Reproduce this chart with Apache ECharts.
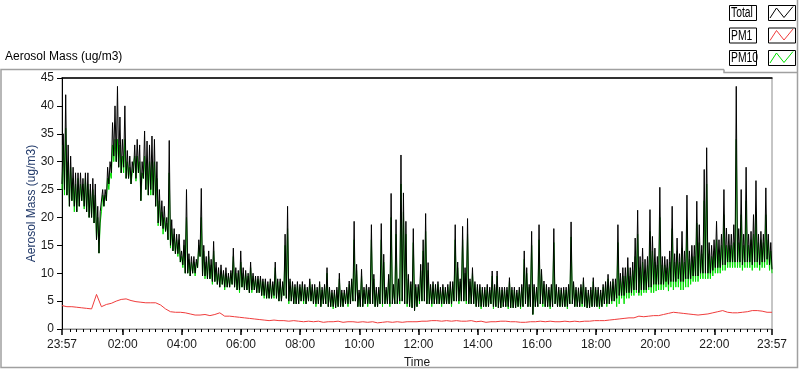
<!DOCTYPE html>
<html>
<head>
<meta charset="UTF-8">
<title>Aerosol Mass</title>
<script src="https://cdn.jsdelivr.net/npm/echarts@6/dist/echarts.min.js"></script>
<style>
html, body { margin: 0; padding: 0; background: #fff; }
#main { width: 800px; height: 369px; }
</style>
</head>
<body>
<div id="main"></div>
<script>
// time labels on the x axis (first and last are the same clock time, 24 h apart)
var tickLabels = ['23:57', '02:00', '04:00', '06:00', '08:00', '10:00', '12:00',
                  '14:00', '16:00', '18:00', '20:00', '22:00', '23:57'];

// readings are dense, so each 5 minute bin keeps its low and its high value
var binMinutes = 5;

// Total: low of each bin
var totalLo = [
  26, 25, 24, 22, 23, 22, 21, 22, 23, 22, 21, 20,
  20, 19, 16, 13.6, 21, 22, 23, 26, 28, 31, 30, 29,
  28, 29, 27, 27, 26, 28, 27, 28, 23, 27, 25, 24,
  25, 24, 22, 19, 18.5, 18, 17.5, 16, 15, 14, 13.5, 13.5,
  12, 11.5, 10, 10, 9.5, 10, 10, 11, 13, 9.5, 9.5, 9,
  9, 8.5, 8.5, 8, 7.5, 8, 7.5, 7.5, 7.5, 8, 7.5, 7,
  7, 7.5, 7, 7, 6.5, 7, 7, 6.5, 6.5, 6, 6, 5.5,
  5.5, 5.5, 6, 5.5, 5, 5, 6, 5.5, 5, 5, 4.5, 4.5,
  4.5, 5, 5, 4.5, 5, 5, 4.5, 4.5, 4.5, 4, 4.5, 4.5,
  4, 4, 4, 3.8, 4, 4, 4, 4.5, 4.5, 4.5, 5, 5,
  4, 4, 4, 4.5, 4.5, 4.5, 4.5, 4, 4, 4.5, 4.5, 4.5,
  4.5, 4.5, 4.5, 4.5, 4.5, 5, 5, 4.5, 4.5, 4, 3.8, 3.3,
  4, 5, 5, 5, 4.5, 4.5, 4.5, 4.5, 4.5, 4.5, 4.5, 4.5,
  4.5, 4.5, 4.5, 5, 5, 5, 5, 5, 5, 4.5, 4.5, 4.5,
  4, 4, 4, 4, 4, 4, 4.5, 4, 4, 3.8, 3.8, 4,
  4, 4, 3.8, 3.8, 3.8, 4, 4, 4, 4.5, 4, 4, 2.6,
  4, 4, 4.5, 4.5, 4, 4, 4, 4, 4.5, 4, 4, 4,
  4, 4, 4.5, 4.5, 4, 4, 4, 4.5, 4, 3.8, 3.8, 4,
  4, 4, 4, 4, 4.5, 4.5, 4.5, 5, 5, 5.5, 6, 6,
  6, 6.5, 6.5, 6.5, 7, 7, 6.5, 7, 7, 7, 7.5, 7.5,
  8, 8, 8, 8, 8, 8.5, 8, 8.5, 8.5, 8.5, 9, 8.5,
  8.5, 9, 9, 9, 9.5, 9.5, 9.5, 10, 10, 10, 10, 10,
  10.5, 11, 11, 11, 11.5, 11.5, 12, 12, 12, 12, 12, 12,
  11.5, 12, 12, 12, 11.5, 12, 12, 11.5, 12, 12, 12.5, 11.5,
  10.7
];
// Total: high of each bin
var totalHi = [
  35, 42, 33, 31, 29, 28, 28, 28, 27, 28, 28, 26,
  27, 26, 22, 21, 25, 25, 29, 30, 37, 40, 43.5, 38,
  34, 40, 32, 31, 30, 33, 34, 33, 30, 35.5, 33.7, 33,
  34.6, 34, 30, 25, 23, 22, 20, 33.8, 19.6, 18, 17, 17,
  14, 16, 25, 13.5, 13, 13, 12.5, 16, 25.2, 15, 13, 14,
  12.5, 15.7, 12, 11, 11.5, 10.5, 11, 10, 10.5, 14.5, 11, 10.5,
  14, 11, 10.5, 10, 12, 10, 9.5, 9.5, 9.5, 9, 9, 8.5,
  9, 8.5, 12, 9, 9, 8.5, 17, 22, 9, 8.5, 8, 8.5,
  8, 8.5, 8, 7.5, 9, 8, 8, 7.5, 8.5, 7.5, 8, 11,
  7.5, 7, 7, 7.5, 10, 7, 7, 7.5, 8.6, 9, 19.3, 11.6,
  7, 10.7, 7.5, 8, 7.5, 18.7, 9.8, 7.5, 7.5, 18.9, 13.4, 7.5,
  9.8, 24.3, 8, 19.6, 9, 31.2, 24.4, 19.3, 9.8, 8.5, 18, 8,
  8, 11.6, 16, 20.7, 11.9, 8, 8.5, 8, 8.5, 7.5, 8, 7.5,
  8, 8.5, 8.5, 18.7, 12, 9, 18.4, 11, 19.8, 9, 11, 8.5,
  8, 8, 7.5, 7.5, 8, 7.5, 10.4, 8, 10.4, 7.5, 7.5, 7.5,
  7.5, 9.2, 7.5, 7.5, 7, 7.5, 8, 14, 11, 8, 17.5, 8,
  7.5, 18.7, 10.7, 8.6, 8, 7.5, 8, 18, 8, 7.5, 7.4, 7.5,
  7.5, 8, 19.2, 8.5, 7.5, 7.4, 8, 9.2, 7.5, 7, 7.5, 9.2,
  7.5, 7.5, 7, 8, 8.5, 9.8, 8.5, 9, 9, 18.7, 10, 11,
  11, 12.8, 11, 12, 16.3, 21.3, 13, 14.5, 12.5, 13, 21.4, 16.6,
  14.5, 13, 25.4, 13, 13, 12.5, 14, 22, 13.5, 16.3, 13.5, 17.5,
  14, 24, 14, 15, 15, 22.9, 18.7, 15, 28.6, 32.5, 15.5, 15,
  16, 19.3, 16, 17, 25, 18.1, 17, 17, 18.7, 43.5, 18, 25,
  17, 29, 17, 17.5, 20.5, 26.6, 17, 17.5, 17, 25.3, 17, 15.5,
  11
];

// PM10: low of each bin
var pm10Lo = [
  25, 24, 24, 22, 23, 21, 21, 22, 23, 21.5, 21, 20,
  20, 19, 16, 13.6, 21, 22, 23, 25, 27, 30, 30, 29,
  28, 28, 27, 27, 26, 28, 26.5, 28, 23, 27, 25, 24,
  24, 24, 22, 18.5, 18.5, 17, 17.5, 16, 14.5, 14, 13.5, 13,
  12, 11, 10, 10, 9.5, 10, 9.5, 11, 13, 9.5, 9, 9,
  9, 8, 8.5, 8, 7.5, 8, 7, 7.5, 7.5, 8, 7.5, 7,
  6.5, 7.5, 7, 7, 6.5, 6.5, 7, 6.5, 6.5, 6, 5.5, 5.5,
  5.5, 5.5, 5.5, 5.5, 5, 5, 6, 5.5, 4.5, 5, 4.5, 4.5,
  4.5, 5, 4.5, 4.5, 5, 5, 4.5, 4, 4.5, 4, 4.5, 4.5,
  4, 4, 3.6, 3.8, 4, 4, 4, 4.5, 4, 4.5, 5, 5,
  4, 4, 4, 4.5, 4, 4.5, 4.5, 4, 4, 4.5, 4, 4.5,
  4.5, 4, 4.5, 4.5, 4.5, 4.5, 5, 4.5, 4, 4, 3.8, 3.3,
  4, 4.5, 5, 5, 4.5, 4.5, 4, 4.5, 4.5, 4.5, 4, 4.5,
  4.5, 4.5, 4, 5, 5, 4.5, 5, 5, 4.5, 4.5, 4.5, 4.5,
  4, 4, 3.6, 4, 4, 4, 4.5, 3.6, 4, 3.8, 3.8, 4,
  4, 3.6, 3.8, 3.8, 3.8, 4, 3.6, 4, 4.5, 4, 4, 2.6,
  4, 4, 4.5, 4, 4, 4, 3.6, 4, 4.5, 4, 4, 4,
  4, 3.6, 4.5, 4.5, 4, 4, 4, 4, 4, 3.8, 3.8, 4,
  4, 4, 3.6, 4, 4.5, 4, 4.5, 4.5, 5, 4, 4.5, 5.5,
  4.5, 5.5, 5.5, 6, 6, 6.5, 6, 6, 6.5, 6.5, 7, 6.5,
  6.5, 6.8, 7, 7, 7, 7.5, 6.8, 7.5, 7, 7.5, 7.5, 7,
  7, 7.5, 7.5, 8, 8.5, 8.5, 8.5, 9, 9, 9, 9, 9,
  9.5, 10, 10, 10, 10.5, 10.5, 11, 11, 11, 11, 11, 11,
  10.5, 11, 11, 11, 10.5, 11, 11, 10.5, 11, 11, 11.5, 10.5,
  10
];
// PM10: high of each bin
var pm10Hi = [
  33, 36, 30, 29, 27, 26, 27, 26, 26, 27, 26, 25,
  25, 24, 20, 19, 24, 24, 27, 28, 33, 34, 34, 33,
  31, 34, 30, 29, 28, 31, 31, 30, 28, 31, 30, 30,
  30, 30, 27, 23, 21, 20, 19, 28, 18, 17, 16, 16,
  13, 15, 20, 12.5, 12, 12, 12, 15, 20, 14, 12, 13,
  11.5, 14, 11, 10, 10.5, 10, 10, 9.5, 10, 13, 10, 10,
  12, 10, 10, 9.5, 11, 9.5, 9, 9, 9, 8.5, 8.5, 8,
  8.5, 8, 11, 8.5, 8.5, 8, 15, 18, 8.5, 8, 7.5, 8,
  7.5, 8, 7.5, 7, 8.5, 7.5, 7.5, 7, 8, 7, 7.5, 10,
  7, 6.5, 6.5, 7, 9, 6.5, 6.5, 7, 8, 8.5, 16, 10.5,
  6.5, 9.5, 7, 7.5, 7, 16, 9, 7, 7, 16, 12, 7,
  9, 20, 7.5, 17, 8.5, 26, 21, 17, 9, 8, 15.5, 7.5,
  7.5, 10.5, 14, 17.5, 10.5, 7.5, 8, 7.5, 8, 7, 7.5, 7,
  7.5, 8, 8, 16, 11, 8.5, 16, 10, 17, 8.5, 10, 8,
  7.5, 7.5, 7, 7, 7.5, 7, 9.5, 7.5, 9.5, 7, 7, 7,
  7, 8.5, 7, 7, 6.5, 7, 7.5, 12.5, 10, 7.5, 15, 7.5,
  7, 16, 10, 8, 7.5, 7, 7.5, 15.5, 7.5, 7, 7, 7,
  7, 7.5, 16.5, 8, 7, 7, 7.5, 8.5, 7, 6.5, 7, 8.5,
  7, 7, 6.5, 7.5, 8, 9, 8, 8.5, 8, 15.5, 9, 9.5,
  9.5, 11, 9.5, 10.5, 13, 17, 11, 12, 10.5, 11.5, 17.5, 14,
  12, 11.5, 20, 11.5, 11.5, 11, 12, 18, 12, 14, 12, 14.5,
  12, 19.5, 12.5, 13, 13, 19, 15.5, 13.5, 23, 26, 13.5, 13,
  14, 16, 14, 15, 20.5, 15, 15, 15, 15.5, 34, 15.5, 20.5,
  15, 23, 15, 16, 17, 21, 15.5, 16, 15.5, 20.5, 16, 14,
  10.5
];

// PM1, one value every 10 minutes
var pm1Step = 10;
var pm1 = [
  4.2, 4.0, 4.0, 3.9, 3.8, 3.7, 3.6, 6.2, 4.0, 4.4, 4.6, 5.0,
  5.3, 5.4, 5.1, 4.9, 4.8, 4.7, 4.7, 4.7, 4.3, 3.6, 3.1, 3.0,
  3.0, 2.9, 2.7, 2.5, 2.5, 2.6, 2.4, 2.6, 2.9, 2.3, 2.3, 2.2,
  2.1, 2.0, 1.9, 1.8, 1.7, 1.6, 1.5, 1.6, 1.5, 1.5, 1.4, 1.5,
  1.4, 1.3, 1.4, 1.3, 1.4, 1.2, 1.3, 1.3, 1.4, 1.2, 1.3, 1.3,
  1.2, 1.3, 1.2, 1.3, 1.1, 1.2, 1.3, 1.2, 1.3, 1.2, 1.3, 1.3,
  1.3, 1.4, 1.4, 1.5, 1.5, 1.4, 1.5, 1.4, 1.5, 1.4, 1.4, 1.5,
  1.3, 1.4, 1.2, 1.3, 1.3, 1.4, 1.4, 1.3, 1.3, 1.2, 1.2, 1.3,
  1.3, 1.4, 1.3, 1.4, 1.3, 1.3, 1.4, 1.3, 1.4, 1.3, 1.4, 1.4,
  1.5, 1.5, 1.5, 1.6, 1.7, 1.8, 1.9, 2.0, 2.0, 2.3, 2.2, 2.3,
  2.4, 2.4, 2.6, 2.8, 3.0, 2.9, 2.8, 2.7, 2.6, 2.5, 2.6, 2.7,
  2.9, 3.1, 3.3, 3.0, 2.9, 2.9, 3.0, 3.1, 3.3, 3.3, 3.2, 3.0,
  3.0
];

var legendNames = ['Total', 'PM1', 'PM10'];
var legendColors = ['#000000', '#f03c3c', '#00e000'];

var FONT = '"Liberation Sans", Arial, sans-serif';

// minutes after the first sample for each label
var startMin = 23 * 60 + 57;
var majorVals = tickLabels.map(function (s, i) {
  if (i === tickLabels.length - 1) return 1440;
  var p = s.split(':');
  return ((+p[0]) * 60 + (+p[1]) - startMin + 1440) % 1440;
});
var labelByVal = {};
majorVals.forEach(function (v, i) { labelByVal[v] = tickLabels[i]; });

// minor ticks: 9 divisions between two hour marks
var minorVals = [];
for (var t = majorVals[1]; t > 5; t -= 120 / 9) minorVals.push(t);
for (var t2 = majorVals[1]; t2 < 1440; t2 += 120 / 9) minorVals.push(t2);

// low at the start of each bin, high in its middle
function binned(lo, hi, step) {
  var out = [];
  for (var i = 0; i < lo.length; i++) {
    out.push([i * step, lo[i]]);
    if (i * step + step / 2 <= 1440) out.push([i * step + step / 2, hi[i]]);
  }
  return out;
}
function pairs(arr, step) {
  return arr.map(function (v, i) { return [i * step, v]; });
}

var graphics = [
  { type: 'text', style: { text: 'Aerosol Mass (ug/m3)', x: 5, y: 57, font: '12px ' + FONT, fill: '#000', textVerticalAlign: 'middle' } },
  { type: 'polyline', shape: { points: [[724, 69.5], [1, 69.5], [1, 367.5], [797.5, 367.5], [797.5, 0]] }, style: { stroke: '#a0a0a0', lineWidth: 1.5, fill: null } },
  { type: 'polyline', shape: { points: [[724, 69.5], [724, 72.5], [797.5, 72.5]] }, style: { stroke: '#a0a0a0', lineWidth: 1.5, fill: null } }
];
legendNames.forEach(function (n, i) {
  var y0 = 5.5 + i * 22.5;
  graphics.push({ type: 'rect', shape: { x: 729.5, y: y0, width: 27, height: 15 }, style: { fill: '#fff', stroke: '#000', lineWidth: 1 } });
  graphics.push({ type: 'text', x: 731, y: y0 + 8, scaleX: 0.74,
    style: { text: n, x: 0, y: 0, font: '14px ' + FONT, fill: '#000', textVerticalAlign: 'middle' } });
  graphics.push({ type: 'rect', shape: { x: 768.5, y: y0, width: 27, height: 15 }, style: { fill: '#fff', stroke: '#000', lineWidth: 1 } });
  graphics.push({ type: 'polyline', shape: { points: [[770, y0 + 12.5], [776.5, y0 + 2.5], [784, y0 + 12], [793, y0 + 1]] }, style: { stroke: legendColors[i], lineWidth: 1, fill: null } });
});

var myChart = echarts.init(document.getElementById('main'));
var option = {
  animation: false,
  backgroundColor: '#fff',
  textStyle: { fontFamily: FONT },
  grid: { left: 62, right: 28, top: 78, bottom: 40, outerBoundsMode: 'none',
          show: true, borderColor: '#8c8c8c', borderWidth: 1, backgroundColor: '#fff' },
  graphic: graphics,
  xAxis: [
    {
      type: 'value', min: 0, max: 1440, position: 'bottom',
      axisLine: { show: true, lineStyle: { color: '#8c8c8c', width: 1 } },
      axisTick: { show: true, customValues: minorVals, length: 3, lineStyle: { color: '#000' } },
      axisLabel: {
        customValues: majorVals, margin: 10, color: '#1a1a1a', fontSize: 12, fontFamily: FONT,
        formatter: function (v) { return labelByVal[v] || ''; }
      },
      splitLine: { show: false },
      name: 'Time', nameLocation: 'middle', nameGap: 28, nameMoveOverlap: false,
      nameTextStyle: { color: '#1a1a1a', fontSize: 12, fontFamily: FONT }
    },
    {
      type: 'value', min: 0, max: 1440, position: 'bottom',
      axisLine: { show: false },
      axisTick: { show: true, customValues: majorVals, length: 6, lineStyle: { color: '#000', width: 1.5 } },
      axisLabel: { show: false },
      splitLine: { show: false }
    },
    {
      type: 'value', min: 0, max: 1440, position: 'top',
      axisLine: { show: true, lineStyle: { color: '#000', width: 1.5 } },
      axisTick: { show: false }, axisLabel: { show: false }, splitLine: { show: false }
    }
  ],
  yAxis: [
    {
      type: 'value', min: 0, max: 45, interval: 5, position: 'left',
      axisLine: { show: true, lineStyle: { color: '#000', width: 1 } },
      axisTick: { show: true, length: 5, lineStyle: { color: '#000' } },
      axisLabel: { margin: 8, color: '#1a1a1a', fontSize: 12, fontFamily: FONT },
      splitLine: { show: false },
      name: 'Aerosol Mass (ug/m3)', nameLocation: 'middle', nameGap: 24, nameMoveOverlap: false,
      nameTextStyle: { color: '#223a6a', fontSize: 12, fontFamily: FONT }
    }
  ],
  series: [
    { name: 'PM1', type: 'line', data: pairs(pm1, pm1Step), showSymbol: false, symbol: 'none',
      lineStyle: { color: legendColors[1], width: 1 }, z: 2 },
    { name: 'PM10', type: 'line', data: binned(pm10Lo, pm10Hi, binMinutes), showSymbol: false, symbol: 'none',
      lineStyle: { color: legendColors[2], width: 1 }, z: 3 },
    { name: 'Total', type: 'line', data: binned(totalLo, totalHi, binMinutes), showSymbol: false, symbol: 'none',
      lineStyle: { color: legendColors[0], width: 1 }, z: 4 }
  ]
};
myChart.setOption(option);
</script>
</body>
</html>
